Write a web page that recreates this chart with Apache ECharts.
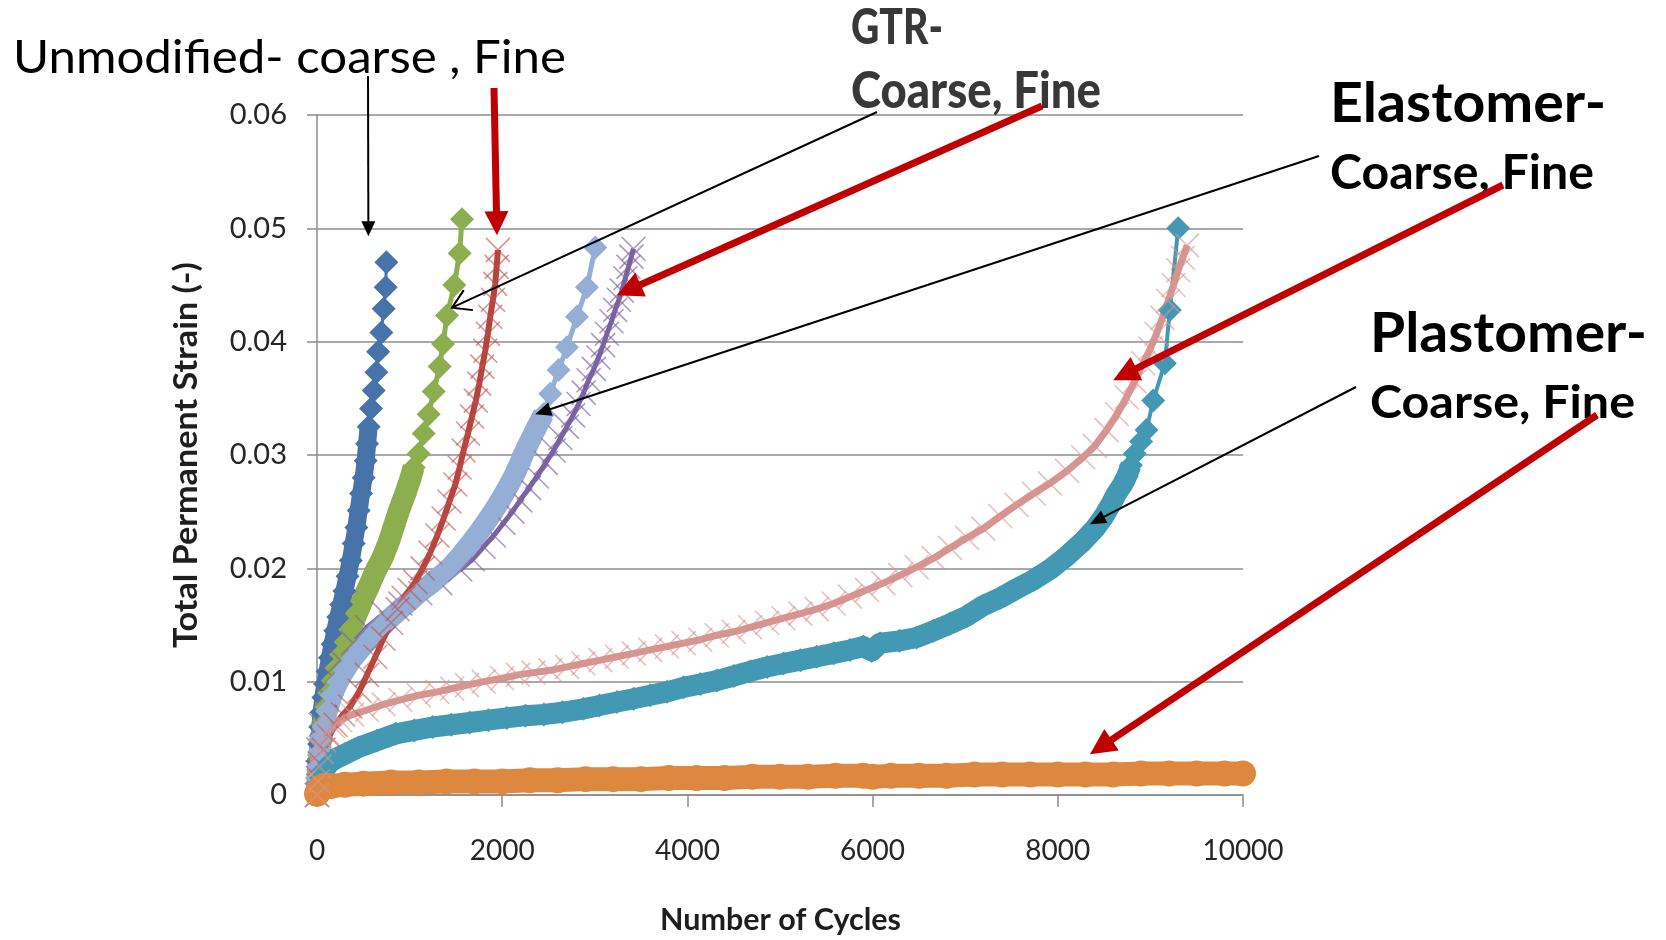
<!DOCTYPE html>
<html>
<head>
<meta charset="utf-8">
<script src="https://cdn.jsdelivr.net/npm/echarts@6/dist/echarts.min.js"></script>
<style>
  html, body { margin: 0; padding: 0; background: #ffffff; }
  #chart { width: 1666px; height: 940px; }
</style>
</head>
<body>
<div id="chart"></div>
<script>
// Tick labels
const xTickLabels = ['0', '2000', '4000', '6000', '8000', '10000'];
const yTickLabels = ['0', '0.01', '0.02', '0.03', '0.04', '0.05', '0.06'];

// [number of cycles, total permanent strain]
const unmodifiedCoarse = [[0,0],[5,0.0015],[12,0.003],[22,0.0045],[35,0.006],[50,0.0073],[68,0.0086],[90,0.0098],[115,0.0109],[140,0.0121],[168,0.0133],[198,0.0145],[230,0.0157],[262,0.0168],[296,0.0180],[330,0.0193],[365,0.0207],[396,0.0222],[425,0.0236],[450,0.0251],[476,0.0266],[504,0.0280],[526,0.0295],[541,0.0310],[558,0.0325],[584,0.0341],[612,0.0357],[641,0.0373],[660,0.0391],[695,0.0408],[720,0.0429],[742,0.0448],[749,0.0470]];
const unmodifiedFine = [[0,0],[10,0.0015],[30,0.0028],[70,0.0040],[130,0.0052],[200,0.0062],[280,0.0071],[360,0.0078],[460,0.0092],[540,0.0106],[630,0.0122],[717,0.0138],[800,0.0152],[870,0.0164],[936,0.0174],[1000,0.0181],[1062,0.0188],[1140,0.0200],[1224,0.0214],[1300,0.0229],[1367,0.0244],[1430,0.0259],[1494,0.0274],[1540,0.0289],[1583,0.0304],[1630,0.0319],[1674,0.0334],[1715,0.0348],[1753,0.0363],[1785,0.0378],[1817,0.0392],[1845,0.0407],[1871,0.0422],[1900,0.0437],[1925,0.0451],[1940,0.0466],[1954,0.0481]];
const gtrCoarse = [[0,0],[8,0.0018],[20,0.0032],[40,0.0048],[65,0.0062],[95,0.0078],[130,0.0090],[170,0.0101],[210,0.0112],[260,0.0124],[310,0.0135],[360,0.0146],[430,0.0160],[497,0.0173],[560,0.0184],[640,0.0199],[700,0.0208],[770,0.0222],[830,0.0237],[890,0.0252],[950,0.0265],[1000,0.0277],[1044,0.0289],[1098,0.0301],[1152,0.0319],[1206,0.0336],[1260,0.0356],[1324,0.0378],[1361,0.0398],[1404,0.0423],[1483,0.0450],[1540,0.0478],[1566,0.0508]];
const gtrFine = [[0,0],[5,0.002],[15,0.004],[40,0.0062],[90,0.0088],[160,0.0105],[252,0.0119],[390,0.0134],[540,0.0148],[720,0.0160],[900,0.0169],[1116,0.0178],[1332,0.0187],[1548,0.0199],[1680,0.0208],[1799,0.0219],[1910,0.0229],[2015,0.0240],[2110,0.0250],[2195,0.0260],[2290,0.0271],[2375,0.0281],[2470,0.0293],[2555,0.0304],[2630,0.0315],[2699,0.0325],[2765,0.0335],[2825,0.0345],[2880,0.0355],[2933,0.0366],[2990,0.0376],[3040,0.0386],[3090,0.0397],[3131,0.0407],[3180,0.0418],[3220,0.0428],[3260,0.0437],[3292,0.0445],[3330,0.0456],[3364,0.0466],[3395,0.0475],[3418,0.0482]];
const elastomerCoarse = [[0,0],[5,0.0015],[12,0.0025],[25,0.0037],[45,0.0050],[71,0.0060],[110,0.0074],[163,0.0088],[230,0.0100],[300,0.0110],[380,0.0120],[470,0.0129],[580,0.0139],[684,0.0148],[790,0.0156],[900,0.0164],[1000,0.0171],[1080,0.0177],[1160,0.0182],[1240,0.0187],[1340,0.0194],[1440,0.0201],[1550,0.0211],[1656,0.0222],[1750,0.0232],[1836,0.0242],[1910,0.0251],[1979,0.0260],[2050,0.0270],[2123,0.0281],[2180,0.0291],[2231,0.0301],[2285,0.0310],[2339,0.0319],[2395,0.0328],[2447,0.0336],[2519,0.0354],[2609,0.0375],[2699,0.0395],[2807,0.0422],[2915,0.0448],[3005,0.0483]];
const elastomerFine = [[0,0],[10,0.0012],[25,0.0025],[50,0.0038],[80,0.0048],[108,0.0055],[170,0.0061],[252,0.0066],[380,0.0071],[540,0.0075],[720,0.0080],[900,0.0084],[1100,0.0088],[1300,0.0091],[1460,0.0094],[1620,0.0097],[1800,0.0100],[2000,0.0103],[2170,0.0106],[2338,0.0108],[2519,0.0110],[2700,0.0113],[2878,0.0116],[3060,0.0119],[3239,0.0122],[3420,0.0125],[3598,0.0128],[3780,0.0131],[3958,0.0134],[4140,0.0137],[4318,0.0141],[4500,0.0144],[4677,0.0148],[4860,0.0152],[5037,0.0156],[5220,0.0160],[5397,0.0164],[5580,0.0169],[5756,0.0175],[5940,0.0181],[6116,0.0187],[6300,0.0194],[6476,0.0201],[6660,0.0209],[6836,0.0218],[7020,0.0227],[7195,0.0235],[7380,0.0246],[7555,0.0256],[7740,0.0266],[7915,0.0275],[8100,0.0286],[8274,0.0298],[8400,0.0308],[8527,0.0322],[8640,0.0336],[8743,0.0351],[8830,0.0365],[8922,0.0381],[9000,0.0394],[9066,0.0407],[9130,0.0421],[9192,0.0436],[9250,0.0450],[9300,0.0463],[9350,0.0474],[9397,0.0485]];
const plastomerCoarse = [[0,0],[20,0.0008],[45,0.0015],[80,0.0022],[130,0.0028],[200,0.0032],[300,0.0036],[450,0.0042],[650,0.0048],[850,0.0054],[1050,0.0057],[1250,0.0060],[1450,0.0062],[1650,0.0064],[1850,0.0066],[2050,0.0068],[2250,0.0070],[2450,0.0071],[2650,0.0073],[2878,0.0076],[3050,0.0079],[3239,0.0082],[3420,0.0085],[3598,0.0088],[3780,0.0091],[3958,0.0095],[4140,0.0098],[4318,0.0101],[4500,0.0105],[4677,0.0109],[4860,0.0113],[5037,0.0116],[5220,0.0119],[5397,0.0122],[5580,0.0125],[5756,0.0128],[5900,0.0131],[5990,0.0127],[6080,0.0134],[6290,0.0136],[6476,0.0139],[6660,0.0145],[6836,0.0151],[7020,0.0158],[7195,0.0167],[7380,0.0174],[7555,0.0182],[7740,0.0190],[7915,0.0199],[8100,0.0211],[8274,0.0224],[8400,0.0235],[8490,0.0245],[8570,0.0256],[8635,0.0266],[8700,0.0274],[8743,0.0281],[8790,0.0291],[8832,0.0301],[8900,0.0312],[8958,0.0322],[9030,0.0348],[9156,0.0381],[9210,0.0428],[9300,0.0500]];
const plastomerFine = [[0,0.0001],[15,0.0003],[35,0.0006],[70,0.0008],[150,0.0008],[300,0.0009],[500,0.0010],[800,0.0011],[1100,0.0011],[1400,0.0012],[1700,0.0012],[2000,0.0012],[2300,0.0013],[2600,0.0013],[2900,0.0014],[3200,0.0014],[3500,0.0014],[3800,0.0015],[4100,0.0015],[4400,0.0015],[4700,0.0016],[5000,0.0016],[5300,0.0016],[5600,0.0017],[5900,0.0017],[6000,0.0016],[6200,0.0017],[6500,0.0017],[6800,0.0017],[7100,0.0018],[7400,0.0018],[7700,0.0018],[8000,0.0018],[8300,0.0018],[8600,0.0018],[8900,0.0019],[9200,0.0019],[9500,0.0019],[9800,0.0019],[10000,0.0019]];

// Arrow tips in data units [cycles, strain]
const tipUnmodCoarse = [555, 0.0493];
const tipUnmodFine = [1943, 0.0494];
const tipGtrCoarse = [1458, 0.0430];
const tipGtrFine = [3238, 0.0441];
const tipElastCoarse = [2357, 0.0336];
const tipElastFine = [8598, 0.0366];
const tipPlastCoarse = [8347, 0.0239];
const tipPlastFine = [8347, 0.0036];

const FONT = 'Lato';
const CROSS = 'path://M0,0L10,10M10,0L0,10';

// Closely logged early cycles merge into a solid band of markers:
// a wide stroke under the markers for the first `count` points.
function bandSeries(name, data, count, color, width) {
  return {
    type: 'line', name: name, data: data.slice(0, count), clip: false,
    symbol: 'none', silent: true,
    lineStyle: { color: color, width: width, cap: 'butt', join: 'round' },
    emphasis: { disabled: true }
  };
}
function diamondSeries(name, data, color, lineWidth) {
  return {
    type: 'line', name: name, data: data, clip: false,
    symbol: 'diamond', symbolSize: 24, showSymbol: true,
    lineStyle: { color: color, width: lineWidth },
    itemStyle: { color: color, borderWidth: 0 },
    emphasis: { disabled: true }
  };
}
function crossSeries(name, data, lineColor, markColor, lineWidth) {
  return {
    type: 'line', name: name, data: data, clip: false,
    symbol: CROSS, symbolSize: 24, showSymbol: true,
    lineStyle: { color: lineColor, width: lineWidth },
    itemStyle: { color: 'rgba(0,0,0,0)', borderColor: markColor, borderWidth: 1.6 },
    emphasis: { disabled: true }
  };
}
function circleSeries(name, data, color, lineWidth) {
  return {
    type: 'line', name: name, data: data, clip: false,
    symbol: 'circle', symbolSize: 26, showSymbol: true,
    lineStyle: { color: color, width: lineWidth, cap: 'round' },
    itemStyle: { color: color, borderWidth: 0 },
    emphasis: { disabled: true }
  };
}

const C_BLUE = '#4673a9', C_GREEN = '#8cae4e', C_PURPLE = '#7762a1', C_LBLUE = '#95aed6';
const C_RED = '#b5443f', C_TEAL = '#4399b3', C_ORANGE = '#de873f', C_PINK = '#d69491';

const axisGray = '#8c8c8c';
const chart = echarts.init(document.getElementById('chart'), null, { renderer: 'canvas' });

chart.setOption({
  animation: false,
  backgroundColor: '#ffffff',
  grid: { left: 317, top: 115, width: 926, height: 680, containLabel: false },
  xAxis: {
    type: 'value', min: 0, max: 10000, interval: 2000,
    splitLine: { show: false },
    axisLine: { show: true, lineStyle: { color: axisGray, width: 1.5 } },
    axisTick: { show: true, inside: false, length: 12, lineStyle: { color: axisGray, width: 1.5 } },
    axisLabel: {
      margin: 42, fontFamily: FONT, fontSize: 28, color: '#262626',
      formatter: function (v, i) { return xTickLabels[i]; }
    }
  },
  yAxis: {
    type: 'value', min: 0, max: 0.06, interval: 0.01,
    splitLine: { show: true, lineStyle: { color: axisGray, width: 1.5 } },
    axisLine: { show: true, lineStyle: { color: axisGray, width: 1.5 } },
    axisTick: { show: true, inside: false, length: 10, lineStyle: { color: axisGray, width: 1.5 } },
    axisLabel: {
      margin: 30, fontFamily: FONT, fontSize: 29, color: '#262626',
      formatter: function (v, i) { return yTickLabels[i]; }
    }
  },
  series: [
    bandSeries('Unmodified coarse', unmodifiedCoarse, 25, C_BLUE, 18),
    diamondSeries('Unmodified coarse', unmodifiedCoarse, C_BLUE, 3),
    bandSeries('GTR coarse', gtrCoarse, 23, C_GREEN, 22),
    diamondSeries('GTR coarse', gtrCoarse, C_GREEN, 5),
    crossSeries('GTR fine', gtrFine, C_PURPLE, 'rgba(128,100,162,0.65)', 5),
    bandSeries('Elastomer coarse', elastomerCoarse, 36, C_LBLUE, 21),
    diamondSeries('Elastomer coarse', elastomerCoarse, C_LBLUE, 5),
    crossSeries('Unmodified fine', unmodifiedFine, C_RED, 'rgba(192,80,77,0.6)', 6),
    bandSeries('Plastomer coarse', plastomerCoarse, 58, C_TEAL, 21),
    diamondSeries('Plastomer coarse', plastomerCoarse, C_TEAL, 4),
    circleSeries('Plastomer fine', plastomerFine, C_ORANGE, 24),
    crossSeries('Elastomer fine', elastomerFine, C_PINK, 'rgba(217,150,148,0.6)', 7)
  ]
});

// ---- annotations ----
const measureCtx = document.createElement('canvas').getContext('2d');
function textWidth(str, font) { measureCtx.font = font; return measureCtx.measureText(str).width; }

// Text placed by left edge and baseline, stretched or squeezed to a given width
function label(str, left, baseline, width, size, weight, color) {
  const font = weight + ' ' + size + 'px ' + FONT;
  const sx = width / textWidth(str, font);
  return {
    type: 'text', x: left, y: baseline - 0.36 * size, scaleX: sx, z: 200,
    style: { text: str, font: font, fill: color, align: 'left', verticalAlign: 'middle' }
  };
}

function arrow(from, to, color, w, headL, headW, open) {
  const dx = to[0] - from[0], dy = to[1] - from[1];
  const len = Math.hypot(dx, dy), ux = dx / len, uy = dy / len;
  const bx = to[0] - ux * headL, by = to[1] - uy * headL;
  const px = -uy * headW / 2, py = ux * headW / 2;
  const els = [];
  if (open) {
    els.push({ type: 'line', z: 210, shape: { x1: from[0], y1: from[1], x2: to[0], y2: to[1] }, style: { stroke: color, lineWidth: w } });
    els.push({ type: 'polyline', z: 210, shape: { points: [[bx + px, by + py], to, [bx - px, by - py]] }, style: { stroke: color, lineWidth: w, fill: null } });
  } else {
    els.push({ type: 'line', z: 210, shape: { x1: from[0], y1: from[1], x2: bx + ux * 2, y2: by + uy * 2 }, style: { stroke: color, lineWidth: w } });
    els.push({ type: 'polygon', z: 210, shape: { points: [[bx + px, by + py], to, [bx - px, by - py]] }, style: { fill: color } });
  }
  return els;
}

function px(pt) { return chart.convertToPixel({ gridIndex: 0 }, pt); }

const RED = '#c00000';
const BLACK = '#000000';
const gtrGray = '#383838';

let elements = [];
elements.push(label('Unmodified- coarse , Fine', 13, 75, 553, 47, 'normal', '#000000'));
elements.push(label('GTR-', 851, 46, 92, 50, '900', gtrGray));
elements.push(label('Coarse, Fine', 851, 110, 250, 52, '900', gtrGray));
elements.push(label('Elastomer-', 1330, 124, 276, 55, 'bold', '#000000'));
elements.push(label('Coarse, Fine', 1330, 191, 264, 47, 'bold', '#000000'));
elements.push(label('Plastomer-', 1370, 354, 277, 55, 'bold', '#000000'));
elements.push(label('Coarse, Fine', 1370, 420, 265, 45, 'bold', '#000000'));

// axis titles
(function () {
  const t1 = 'Number of Cycles';
  const f = 'bold 31px ' + FONT;
  elements.push({
    type: 'text', x: 660, y: 931 - 0.36 * 31, scaleX: 241 / textWidth(t1, f), z: 200,
    style: { text: t1, font: f, fill: '#1e1e1e', align: 'left', verticalAlign: 'middle' }
  });
  const t2 = 'Total Permanent Strain (-)';
  const fy = 'bold 32px ' + FONT;
  elements.push({
    type: 'text', x: 198 - 0.36 * 32, y: 455, rotation: Math.PI / 2,
    scaleX: 386 / textWidth(t2, fy), z: 200,
    style: { text: t2, font: fy, fill: '#1e1e1e', align: 'center', verticalAlign: 'middle' }
  });
})();

elements = elements
  .concat(arrow([368, 76], px(tipUnmodCoarse), BLACK, 2, 15, 14, false))
  .concat(arrow([494, 88], px(tipUnmodFine), RED, 7, 24, 24, false))
  .concat(arrow([877, 112], px(tipGtrCoarse), BLACK, 2, 18, 22, true))
  .concat(arrow([1042, 106], px(tipGtrFine), RED, 7, 26, 26, false))
  .concat(arrow([1319, 156], px(tipElastCoarse), BLACK, 2, 16, 14, false))
  .concat(arrow([1503, 185], px(tipElastFine), RED, 7, 26, 26, false))
  .concat(arrow([1356, 387], px(tipPlastCoarse), BLACK, 2, 16, 14, false))
  .concat(arrow([1597, 415], px(tipPlastFine), RED, 7, 26, 26, false));

chart.setOption({ graphic: { elements: elements } });
</script>
</body>
</html>
